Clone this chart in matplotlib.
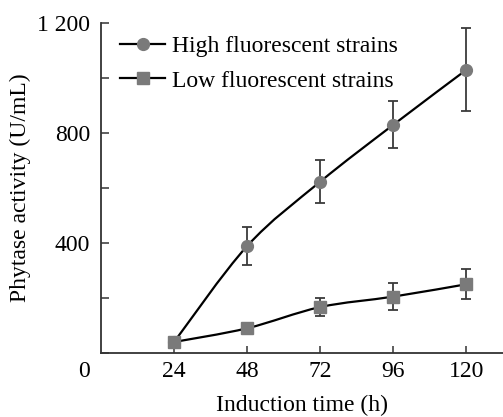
import matplotlib.pyplot as plt
import numpy as np
from matplotlib.path import Path
import matplotlib.patches as patches

# Data
times = [24, 48, 72, 96, 120]
high_mean = [40, 389, 623, 830, 1030]
high_err = [0, 68, 77, 85, 150]
low_mean = [40, 90, 167, 205, 250]
low_err = [0, 0, 33, 48, 54]

y_ticks = [0, 200, 400, 600, 800, 1000, 1200]
y_tick_labels = ['', '', '400', '', '800', '', '1 200']
x_ticks = [24, 48, 72, 96, 120]

plt.rcParams['font.family'] = ['Liberation Serif', 'DejaVu Serif']

MARKER_COLOR = '#7a7a7a'
ERR_COLOR = '#3a3a3a'
FS = 17


def smooth_path(xs, ys):
    """Catmull-Rom style Bezier path through the data points."""
    pts = np.column_stack([xs, ys]).astype(float)
    verts = [pts[0]]
    codes = [Path.MOVETO]
    n = len(pts)
    for i in range(n - 1):
        p0 = pts[i - 1] if i > 0 else pts[i]
        p1 = pts[i]
        p2 = pts[i + 1]
        p3 = pts[i + 2] if i + 2 < n else pts[i + 1]
        c1 = p1 + (p2 - p0) / 6.0
        c2 = p2 - (p3 - p1) / 6.0
        verts += [c1, c2, p2]
        codes += [Path.CURVE4] * 3
    return Path(verts, codes)


fig = plt.figure(figsize=(5.03, 4.17), dpi=100)
ax = fig.add_axes([0.2008, 0.1535, 0.7992, 0.7914])

for mean, err, mk, label in [(high_mean, high_err, 'o', 'High fluorescent strains'),
                             (low_mean, low_err, 's', 'Low fluorescent strains')]:
    path = smooth_path(times, mean)
    ax.add_patch(patches.PathPatch(path, facecolor='none', edgecolor='black',
                                   linewidth=1.6, zorder=2))
    ax.errorbar(times, mean, yerr=err, fmt='none', ecolor=ERR_COLOR,
                elinewidth=1.3, capsize=3.5, capthick=1.3, zorder=3)
    ax.plot(times, mean, linestyle='none', marker=mk, markersize=8.5,
            markerfacecolor=MARKER_COLOR, markeredgecolor=MARKER_COLOR, zorder=4)
    # legend proxy
    ax.plot([], [], color='black', linewidth=1.6, marker=mk, markersize=8.5,
            markerfacecolor=MARKER_COLOR, markeredgecolor=MARKER_COLOR, label=label)

ax.set_xlim(0, 132)
ax.set_ylim(0, 1200)
ax.set_xticks(x_ticks)
ax.set_yticks(y_ticks)
ax.set_yticklabels(y_tick_labels)

for side in ['top', 'right']:
    ax.spines[side].set_visible(False)
for side in ['left', 'bottom']:
    ax.spines[side].set_color('#333333')
    ax.spines[side].set_linewidth(1.3)

ax.tick_params(axis='both', direction='in', labelsize=FS, width=1.1,
               color='#333333', length=6, pad=8)
ax.tick_params(axis='x', length=5, pad=6)

# shared origin label
ax.annotate('0', xy=(0, 0), xycoords='data', xytext=(-12, -6),
            textcoords='offset points', ha='center', va='top', fontsize=FS)

ax.set_xlabel('Induction time (h)', fontsize=FS, labelpad=9)
ax.set_ylabel('Phytase activity (U/mL)', fontsize=FS, labelpad=4)

leg = ax.legend(loc='upper left', bbox_to_anchor=(0.025, 0.99), frameon=False,
                fontsize=FS, handlelength=1.9, handletextpad=0.3,
                labelspacing=0.55, borderaxespad=0)

fig.savefig('out.png', dpi=100)
